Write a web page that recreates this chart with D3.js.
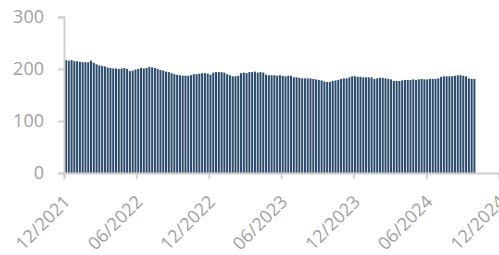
<!DOCTYPE html>
<html>
<head>
<meta charset="utf-8">
<script src="https://cdn.jsdelivr.net/npm/d3@7"></script>
<style>
  body { margin: 0; background: #fff; }
  svg { display: block; }
</style>
</head>
<body>
<svg id="chart" width="499" height="255"></svg>
<script>
// weekly values, first week of Dec 2021 to early Oct 2024
const startDate = "2021-12-03";
const values = [
  217, 216, 217, 215, 215, 214, 213, 213, 213, 216,
  212, 209, 207, 206, 205, 203, 202, 201, 201, 200,
  201, 202, 200, 196, 197, 199, 200, 202, 201, 202,
  204, 203, 202, 200, 198, 197, 195, 194, 192, 190,
  189, 188, 187, 187, 187, 188, 190, 190, 191, 192,
  192, 191, 189, 193, 194, 194, 194, 193, 190, 188,
  186, 186, 187, 192, 193, 192, 194, 194, 195, 193,
  194, 193, 189, 188, 188, 188, 187, 188, 187, 186,
  187, 187, 184, 184, 183, 182, 182, 182, 182, 181,
  180, 179, 178, 176, 175, 175, 177, 178, 179, 181,
  182, 182, 184, 186, 186, 185, 185, 184, 184, 184,
  184, 181, 182, 183, 183, 182, 181, 180, 177, 177,
  177, 178, 179, 179, 179, 180, 179, 180, 181, 180,
  180, 181, 181, 181, 182, 185, 186, 186, 186, 186,
  187, 188, 188, 187, 186, 182, 181, 181
];
const xTickLabels = ["12/2021", "06/2022", "12/2022", "06/2023", "12/2023", "06/2024", "12/2024"];
const yTicks = [0, 100, 200, 300];

const parse = d3.timeParse("%Y-%m-%d");
const t0 = parse(startDate);
const points = values.map((v, i) => ({ date: d3.timeDay.offset(t0, i * 7), value: v }));

const marginLeft = 64, marginTop = 17, plotRight = 499, plotBottom = 173;
const axisColor = "#d0d0d0", labelColor = "#a0a0a0";

const x = d3.scaleTime()
    .domain([new Date(2021, 11, 1), new Date(2024, 11, 1)])
    .range([marginLeft, plotRight]);
const y = d3.scaleLinear()
    .domain([0, 300])
    .range([plotBottom, marginTop]);

const svg = d3.select("#chart");

const weekPx = x(d3.timeDay.offset(t0, 7)) - x(t0);
const barW = weekPx * 0.72;

svg.append("g")
    .selectAll("rect")
    .data(points)
    .join("rect")
    .attr("x", d => x(d.date) - weekPx / 2 + 1.6)
    .attr("width", barW)
    .attr("y", d => y(d.value))
    .attr("height", d => plotBottom - y(d.value))
    .attr("fill", "#2a4b6b");

// y axis
const yAxis = svg.append("g")
    .attr("transform", `translate(${marginLeft},0)`)
    .call(d3.axisLeft(y).tickValues(yTicks).tickSize(6).tickPadding(14));
yAxis.select(".domain").attr("stroke", axisColor).attr("stroke-width", 2);
yAxis.selectAll(".tick line").attr("stroke", axisColor).attr("stroke-width", 2);
yAxis.selectAll(".tick text")
    .attr("fill", labelColor)
    .style("font-family", "'Open Sans', sans-serif")
    .style("font-size", "18px");

// x axis
const xTickDates = xTickLabels.map(s => {
  const [m, yr] = s.split("/");
  return new Date(+yr, +m - 1, 1);
});
const xAxis = svg.append("g")
    .attr("transform", `translate(0,${plotBottom})`)
    .call(d3.axisBottom(x).tickValues(xTickDates).tickSize(6)
      .tickFormat((d, i) => xTickLabels[i]));
xAxis.select(".domain").attr("stroke", axisColor).attr("stroke-width", 2);
xAxis.selectAll(".tick line").attr("stroke", axisColor).attr("stroke-width", 2);
xAxis.selectAll(".tick text")
    .attr("fill", labelColor)
    .style("font-family", "'Open Sans', sans-serif")
    .style("font-size", "18px")
    .attr("text-anchor", "end")
    .attr("dy", null)
    .attr("y", null)
    .attr("transform", "translate(7,30) rotate(-45)");
</script>
</body>
</html>
